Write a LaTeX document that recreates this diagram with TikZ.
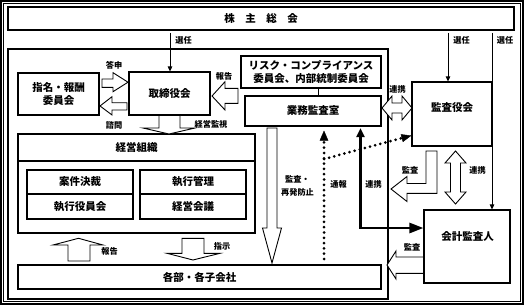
\documentclass[tikz,border=0pt]{standalone}
\usepackage{fontspec}
\setmainfont{Noto Sans CJK JP}
\usetikzlibrary{arrows.meta,calc}
\begin{document}
\begin{tikzpicture}[x=1pt,y=-1pt,
  bx/.style={draw, line width=1.1pt, inner sep=0pt, fill=white},
  bt/.style={font=\fontsize{10.5}{13.5}\selectfont\bfseries, inner sep=0pt, align=center},
  sl/.style={font=\fontsize{8.2}{12.5}\selectfont\bfseries, inner sep=0pt, align=center},
  blk/.style={draw, fill=white, line width=0.9pt, line join=miter},
  thinarr/.style={line width=0.8pt, -{Triangle[length=5pt,width=4.5pt]}},
  dotline/.style={line width=3pt, dash pattern=on 0pt off 5.3pt, line cap=round},
]
\useasboundingbox (0,0) rectangle (524,305);
% outer double frame
\draw[line width=1.2pt] (1,1) rectangle (523,304);
\draw[line width=0.8pt] (3.5,3.5) rectangle (520.5,301.5);

% boxes
\node[bx, bt, minimum width=506pt, minimum height=23pt] (sh) at (261,18.5)
  {株\hspace{10.5pt}主\hspace{10.5pt}総\hspace{10.5pt}会};
\node[bx, minimum width=380pt, minimum height=250pt] (co) at (198,174) {};
\node[bx, bt, minimum width=81pt, minimum height=42pt] (nom) at (58.5,94) {指名・報酬\\委員会};
\node[bx, bt, minimum width=81pt, minimum height=43pt] (bod) at (169.5,93.5) {取締役会};
\node[bx, bt, minimum width=140pt, minimum height=32pt] (risk) at (311,72)
  {リスク・コンプライアンス\\委員会、内部統制委員会};
\node[bx, bt, minimum width=136pt, minimum height=30pt] (office) at (313,111) {業務監査室};
\node[bx, minimum width=80pt, minimum height=64pt] (kansa) at (452,114) {};
\node[bt] (kansaT) at (452,107.5) {監査役会};
\node[bx, minimum width=86pt, minimum height=73pt] (cpa) at (467,246.5) {};
\node[bt] (cpaT) at (467.5,236.5) {会計監査人};
\node[bx, minimum width=237pt, minimum height=99pt] (mgmt) at (136.5,183.5) {};
\coordinate (hl) at (0,161);
\draw[line width=1.1pt] (mgmt.west |- hl) -- (mgmt.east |- hl);
\node[bt] (mgmtT) at (136.5,147.5) {経営組織};
\node[bx, bt, minimum width=106pt, minimum height=24pt] (in1a) at (80,182) {案件決裁};
\node[bx, bt, minimum width=106pt, minimum height=25pt] (in1b) at (80,206.5) {執行役員会};
\node[bx, bt, minimum width=106pt, minimum height=24pt] (in2a) at (193,182) {執行管理};
\node[bx, bt, minimum width=106pt, minimum height=25pt] (in2b) at (193,206.5) {経営会議};
\node[bx, bt, minimum width=363pt, minimum height=24pt] (dept) at (199.5,277) {各部・各子会社};

% thin appointment arrows
\coordinate (a1) at (170,33);
\draw[thinarr] (a1) -- (a1 |- bod.north);
\coordinate (a2) at (448,33);
\draw[thinarr] (a2) -- (a2 |- kansa.north);
\coordinate (a3) at (492,33);
\draw[thinarr] (a3) -- (a3 |- cpa.north);

% risk - office link
\coordinate (r1) at (318,0);
\draw[line width=1pt] (r1 |- risk.south) -- (r1 |- office.north);

% block arrows
\draw[blk] (102,79)--(113,79)--(113,72.7)--(128,82.2)--(113,91.7)--(113,87.3)--(102,87.3)--cycle; % 答申
\draw[blk] (127,102.7)--(112,102.7)--(112,96.7)--(100,106)--(112,115)--(112,110)--(127,110)--cycle; % 諮問
\draw[blk] (238,88.3)--(225,88.3)--(225,81.7)--(212,96)--(225,110)--(225,103.3)--(238,103.3)--cycle; % 報告
\draw[blk] (159,115.5)--(159,128)--(143,128)--(169,134)--(195,128)--(180,128)--(180,115.5)--cycle; % 経営監視
\draw[blk] (68,261)--(68,245)--(53,245)--(78.5,238.3)--(103,245)--(90,245)--(90,261)--cycle; % 報告 up
\draw[blk] (182,238.3)--(182,253.3)--(167,253.3)--(193,260)--(220,253.3)--(204,253.3)--(204,238.3)--cycle; % 指示
\draw[blk] (267,128)--(267,228)--(262.5,228)--(272,263)--(281.5,228)--(277,228)--(277,128)--cycle; % 監査・再発防止
\draw[blk] (426,151)--(426,183.5)--(407,183.5)--(407,176.5)--(391,189)--(407,201.5)--(407,193.3)--(437,193.3)--(437,151)--cycle; % 監査 L
\draw[blk] (455.5,151)--(466,163)--(460.5,163)--(460.5,192)--(466,192)--(455.5,204)--(445,192)--(450.5,192)--(450.5,163)--(445,163)--cycle; % 連携 vertical
\draw[blk] (423.5,257)--(396,257)--(396,251)--(387,265)--(396,279)--(396,273.3)--(423.5,273.3)--cycle; % 監査 bottom
\draw[blk] (382,108)--(392,96)--(392,103)--(402,103)--(402,96)--(412,108)--(402,120)--(402,113)--(392,113)--(392,120)--cycle; % 連携 horizontal

% thick 連携 connector
\coordinate (tc) at (360.5,228);
\draw[line width=2.6pt, line join=miter, {Triangle[length=9pt,width=8pt]}-{Triangle[length=14pt,width=10pt]}]
  ($(tc |- office.south)+(0,1.5)$) -- (tc) -- (tc -| cpa.west);

% dotted 通報
\coordinate (d0) at (324,259);
\coordinate (dj) at (324,159);
\coordinate (dt) at (324,130.5);
\draw[dotline, -{Triangle[length=10pt,width=8.5pt,line width=0.4pt]}] (d0) -- (dt);
\draw[dotline, -{Triangle[length=10pt,width=8pt,line width=0.4pt]}] (dj) -- ($(kansa.south west)+(0,-11)$);

% labels
\node[sl] (l1) at (183.5,40.5) {選任};
\node[sl] (l2) at (461.5,40.5) {選任};
\node[sl] (l3) at (505,40.5) {選任};
\node[sl] (l4) at (114,65.5) {答申};
\node[sl] (l5) at (114,125) {諮問};
\node[sl] (l6) at (224,76) {報告};
\node[sl] (l7) at (211,124) {経営監視};
\node[sl] (l8) at (397.5,89.5) {連携};
\node[sl] (l9) at (410,170) {監査};
\node[sl] (l10) at (477.5,170) {連携};
\node[sl] (l11) at (297.5,186) {監査・\\再発防止};
\node[sl] (l12) at (338.5,184) {通報};
\node[sl] (l13) at (373.5,184) {連携};
\node[sl] (l14) at (109.5,251) {報告};
\node[sl] (l15) at (222,246) {指示};
\node[sl] (l16) at (412,247) {監査};
\end{tikzpicture}
\end{document}
